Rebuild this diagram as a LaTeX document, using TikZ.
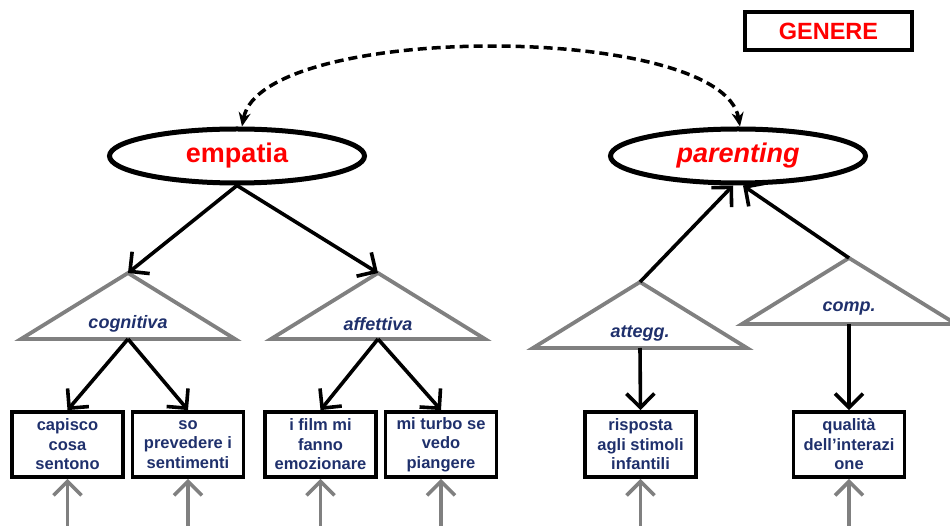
\documentclass[tikz,border=0pt]{standalone}
\usepackage{fontspec}
\setmainfont{Liberation Sans}
\usetikzlibrary{arrows.meta,shapes.geometric}
\definecolor{navy}{RGB}{31,48,108}
\definecolor{grigio}{RGB}{128,128,128}
\begin{document}
\begin{tikzpicture}[x=1pt, y=-1pt,
    latent/.style={ellipse, draw, line width=5pt, minimum width=255pt, minimum height=54pt, inner sep=0pt, text=red, font=\fontsize{27}{30}\selectfont\bfseries},
    item/.style={rectangle, draw, line width=3.8pt, minimum width=111pt, minimum height=65pt, inner sep=0pt, align=center, text=navy, font=\fontsize{16.5}{19.5}\selectfont\bfseries},
    dimlab/.style={inner sep=0pt, text=navy, font=\fontsize{18}{20}\selectfont\bfseries\itshape},
    tri/.style={draw=grigio, line width=3.8pt},
    link/.style={-{Straight Barb[length=14pt,width=28pt,line width=3.6pt]}, line width=3.6pt},
    err/.style={{Straight Barb[length=14pt,width=28pt,line width=3.6pt]}-, line width=3.6pt, grigio},
    cov/.style={{Stealth[length=14pt,width=12pt]}-{Stealth[length=14pt,width=12pt]}, line width=3.5pt, dash pattern=on 9pt off 5pt}]
    \useasboundingbox (0,0) rectangle (950,526);
    % Latent variables
    \node[latent] (emp) at (237,156) {empatia};
    \node[latent] (par) at (738,156) {\itshape parenting};
    \node[draw, line width=3.8pt, minimum width=167pt, minimum height=38pt, text=red, font=\fontsize{23.5}{26}\selectfont\bfseries] (gen) at (828.5,31) {GENERE};

    % Dimensions (drawn as triangles)
    \foreach \n/\x/\y/\t in {cog/128/273/cognitiva, aff/378/273/affettiva, att/640/282/attegg., cmp/849/258/comp.} {
        \coordinate (\n T) at (\x,\y);
        \coordinate (\n B) at (\x,\y+66);
        \draw[tri] (\n T) -- ++(-107,66) -- ++(214,0) -- cycle;
        \node[dimlab] (\n) at (\x,\y+51) {\t};
    }

    % Items
    \node[item] (b1) at (67.5,444.5) {capisco\\cosa\\sentono};
    \node[item] (b2) at (188,444.5) {so\\prevedere i\\sentimenti};
    \node[item] (b3) at (320.5,444.5) {i film mi\\fanno\\emozionare};
    \node[item] (b4) at (441,444.5) {mi turbo se\\vedo\\piangere};
    \node[item] (b5) at (640.5,444.5) {risposta\\agli stimoli\\infantili};
    \node[item] (b6) at (849,444.5) {qualità\\dell’interazi\\one};

    % Covariance between latents
    \draw[cov] ([xshift=5pt]emp.north) .. controls (262,22) and (722,22) .. ([xshift=2pt]par.north);

    % Latent to dimensions
    \draw[link] (emp.south) -- (cogT);
    \draw[link] (emp.south) -- (affT);
    \draw[link] (attT) -- ([xshift=-5pt]par.south);
    \draw[link] (cmpT) -- ([xshift=5pt]par.south);

    % Dimensions to items
    \draw[link] (cogB) -- (b1.north);
    \draw[link] (cogB) -- (b2.north);
    \draw[link] (affB) -- (b3.north);
    \draw[link] (affB) -- (b4.north);
    \draw[link] (attB) -- (b5.north);
    \draw[link] (cmpB) -- (b6.north);

    % Error terms
    \coordinate (bot) at (0,526);
    \foreach \i in {1,...,6} {
        \coordinate (e\i) at (b\i.south |- bot);
        \draw[err] (b\i.south) -- (e\i);
    }
\end{tikzpicture}
\end{document}
